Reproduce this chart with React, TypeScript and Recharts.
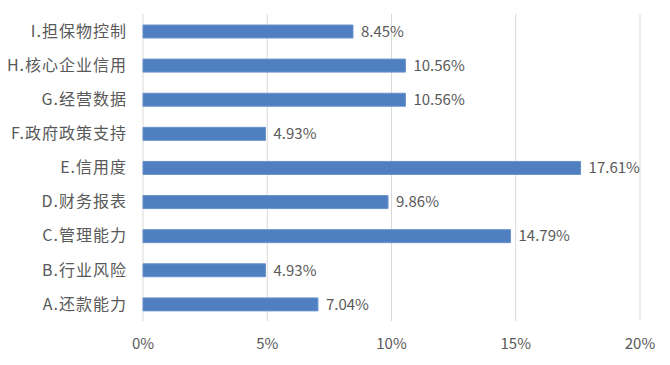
import React from "react";
import { BarChart, Bar, XAxis, YAxis, CartesianGrid, LabelList } from "recharts";

const categories = [
  "I.担保物控制",
  "H.核心企业信用",
  "G.经营数据",
  "F.政府政策支持",
  "E.信用度",
  "D.财务报表",
  "C.管理能力",
  "B.行业风险",
  "A.还款能力",
];
const values = [8.45, 10.56, 10.56, 4.93, 17.61, 9.86, 14.79, 4.93, 7.04];
const xTicks = [0, 5, 10, 15, 20];

const data = categories.map((name, i) => ({ name, value: values[i] }));

const FONT = "'Noto Sans CJK SC', 'Noto Sans', sans-serif";

export default function App() {
  return (
    <div style={{ position: "absolute", left: 0, top: 0, width: 670, height: 365, background: "#fff" }}>
      <BarChart
        width={670}
        height={365}
        data={data}
        layout="vertical"
        margin={{ top: 14, right: 30, bottom: 14, left: 0 }}
        barCategoryGap="30%"
      >
        <CartesianGrid horizontal={false} vertical={true} stroke="#d9d9d9" />
        <XAxis
          type="number"
          domain={[0, 20]}
          ticks={xTicks}
          tickFormatter={(v: number) => `${v}%`}
          axisLine={false}
          tickLine={false}
          tickSize={0}
          tickMargin={17}
          height={30}
          tick={{ fill: "#595959", fontSize: 15, fontFamily: FONT }}
        />
        <YAxis
          type="category"
          dataKey="name"
          width={143}
          axisLine={false}
          tickLine={false}
          tickSize={0}
          tickMargin={16}
          interval={0}
          tick={{ fill: "#595959", fontSize: 16, fontFamily: FONT, letterSpacing: 1 }}
        />
        <Bar dataKey="value" fill="#4f7fc0" stroke="#6a93cc" strokeWidth={1} barSize={13} isAnimationActive={false}>
          <LabelList
            dataKey="value"
            position="right"
            offset={8}
            formatter={(v: number) => `${v.toFixed(2)}%`}
            style={{ fill: "#595959", fontSize: 15, fontFamily: FONT }}
          />
        </Bar>
      </BarChart>
    </div>
  );
}
